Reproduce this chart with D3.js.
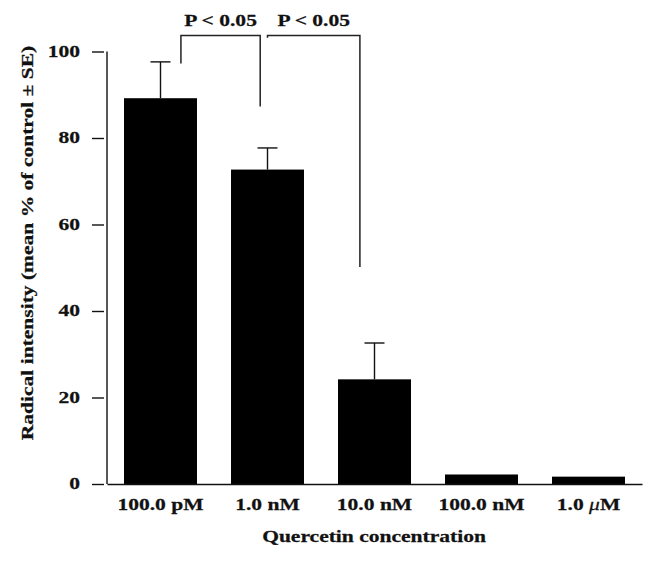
<!DOCTYPE html>
<html>
<head>
<meta charset="utf-8">
<script src="https://cdn.jsdelivr.net/npm/d3@7"></script>
<style>
  body { margin: 0; background: #fff; }
  text { font-family: "Liberation Serif", "Times New Roman", serif; font-weight: bold; fill: #111; stroke: #111; stroke-width: 0.25px; }
</style>
</head>
<body>
<svg id="chart" width="656" height="561"></svg>
<script>
// values
const concentrations = ["100.0 pM", "1.0 nM", "10.0 nM", "100.0 nM", "1.0 μM"];
const meanIntensity = [89.2, 72.7, 24.2, 2.2, 1.7];
const seIntensity = [8.4, 5.0, 8.4, 0, 0];
const yTicks = [0, 20, 40, 60, 80, 100];
const comparisons = [
    {from: "100.0 pM", to: "1.0 nM", label: "P < 0.05", top: 103.7, fromEnd: 97.2, toEnd: 87.3},
    {from: "1.0 nM", to: "10.0 nM", label: "P < 0.05", top: 103.7, fromEnd: 103.2, toEnd: 50.2}
];

let svg = d3.select("#chart");
let fs = 17.5;
let widen = 1.23;   // the source font is set wider than Times

let x = d3.scaleBand().domain(concentrations).range([107, 642])
    .paddingInner(0.318).paddingOuter(0.159);
let y = d3.scaleLinear().domain([0, 100]).range([484, 51.5]);
let bw = x.bandwidth();

// bars
svg.append("g").selectAll("rect").data(concentrations).enter().append("rect")
    .attr("x", d => x(d)).attr("width", bw)
    .attr("y", (d, i) => y(meanIntensity[i]))
    .attr("height", (d, i) => y(0) - y(meanIntensity[i]))
    .attr("fill", "#000");

// error bars (upper only)
let err = svg.append("g").attr("stroke", "#111").attr("stroke-width", 1.4);
concentrations.forEach((c, i) => {
    if (!seIntensity[i]) return;
    let cx = x(c) + bw / 2;
    let top = y(meanIntensity[i] + seIntensity[i]);
    err.append("line").attr("x1", cx).attr("x2", cx).attr("y1", y(meanIntensity[i])).attr("y2", top);
    err.append("line").attr("x1", cx - 10).attr("x2", cx + 10).attr("y1", top).attr("y2", top);
});

// y axis: ticks sit a little away from the axis line
let yAxis = svg.append("g").attr("transform", "translate(104,0)")
    .call(d3.axisLeft(y).tickValues(yTicks).tickSizeInner(12).tickSizeOuter(0));
yAxis.select(".domain").remove();
yAxis.selectAll("line").attr("stroke", "#111").attr("stroke-width", 1.4);
yAxis.selectAll("text").attr("x", null).attr("font-size", fs).attr("font-family", null)
    .attr("text-anchor", "end")
    .attr("transform", "translate(-24,-1) scale(" + widen + ",1)");
svg.append("line").attr("x1", 107).attr("x2", 107).attr("y1", y(0)).attr("y2", y(100))
    .attr("stroke", "#111").attr("stroke-width", 1.4);

// x axis
let xAxis = svg.append("g").attr("transform", "translate(0," + y(0) + ")")
    .call(d3.axisBottom(x).tickSize(0).tickPadding(13.5));
xAxis.select(".domain").attr("stroke", "#111").attr("stroke-width", 1.4);
xAxis.selectAll("text").attr("font-size", fs).attr("font-family", null)
    .attr("transform", "scale(" + widen + ",1)")
    .each(function (d) {
        let t = d3.select(this);
        if (d.indexOf("μ") < 0) return;
        let parts = d.split("μ");
        t.text(null);
        t.append("tspan").text(parts[0]);
        t.append("tspan").attr("font-style", "italic").attr("font-weight", "normal").text("μ");
        t.append("tspan").text(parts[1]);
    });

// axis titles
svg.append("text").attr("text-anchor", "middle").attr("font-size", fs)
    .attr("transform", "translate(374,542) scale(" + widen + ",1)")
    .text("Quercetin concentration");
svg.append("text").attr("text-anchor", "middle").attr("font-size", fs)
    .attr("transform", "translate(33,243) rotate(-90) scale(" + widen + ",1)")
    .text("Radical intensity (mean % of control ± SE)");

// significance brackets
let legAt = [[0.78, 0.40], [0.5, 0.30]];
let br = svg.append("g");
comparisons.forEach((c, i) => {
    let x1 = x(c.from) + bw * legAt[i][0];
    let x2 = x(c.to) + bw * legAt[i][1];
    let yt = y(c.top);
    br.append("path")
        .attr("d", "M" + x1 + "," + y(c.fromEnd) + "V" + yt + "H" + x2 + "V" + y(c.toEnd))
        .attr("fill", "none").attr("stroke", "#222").attr("stroke-width", 1.5);
    br.append("text").attr("text-anchor", "middle").attr("font-size", fs)
        .attr("transform", "translate(" + ((x1 + x2) / 2) + "," + (yt - 9) + ") scale(" + widen + ",1)")
        .text(c.label);
});
</script>
</body>
</html>
